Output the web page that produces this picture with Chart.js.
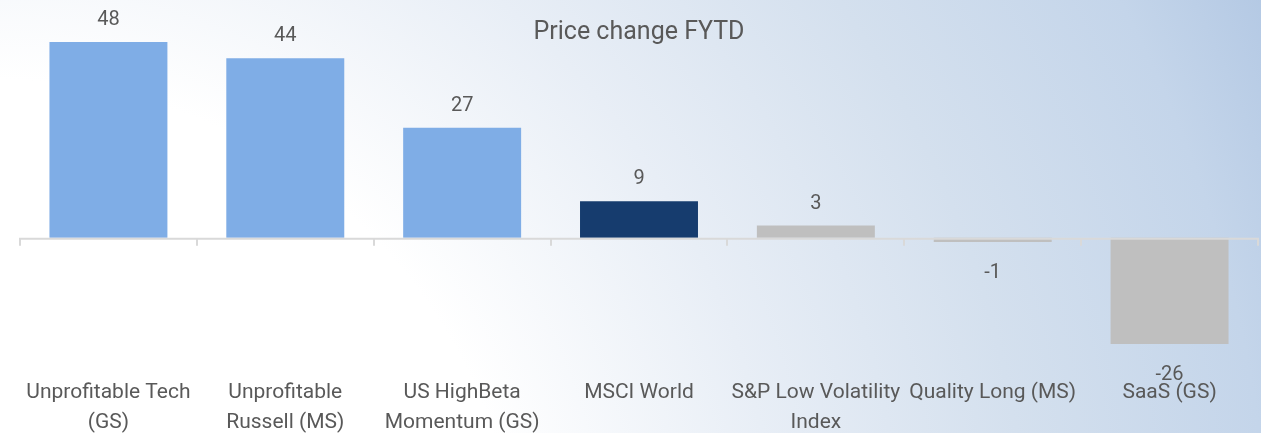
<!DOCTYPE html>
<html>
<head>
<meta charset="utf-8">
<script src="https://cdn.jsdelivr.net/npm/chart.js@4/dist/chart.umd.min.js"></script>
<style>
  html, body { margin: 0; padding: 0; }
  body {
    width: 1261px; height: 433px; overflow: hidden;
    background: radial-gradient(circle at 0px 600px, #ffffff 0px, #ffffff 520px, #e8eef6 780px, #d4e0ee 1030px, #c4d5ea 1270px, #b4c9e4 1400px);
  }
  #wrap { position: relative; width: 1261px; height: 433px; }
</style>
</head>
<body>
<div id="wrap"><canvas id="c"></canvas></div>
<script>
"use strict";
var categories = [
  ["Unprofitable Tech", "(GS)"],
  ["Unprofitable", "Russell (MS)"],
  ["US HighBeta", "Momentum (GS)"],
  "MSCI World",
  ["S&P Low Volatility", "Index"],
  "Quality Long (MS)",
  "SaaS (GS)"
];
var priceChange = [48, 44, 27, 9, 3, -1, -26];
var barColors = ["#7fade6", "#7fade6", "#7fade6", "#163c6e", "#bfbfbf", "#bfbfbf", "#bfbfbf"];
var chartTitle = "Price change FYTD";

var textColor = "#595959";
var fontFam = "Roboto, 'Noto Sans', sans-serif";

// zero line + category ticks, value labels, title
var decor = {
  id: "decor",
  afterDatasetsDraw: function(chart) {
    var ctx = chart.ctx, area = chart.chartArea;
    var xs = chart.scales.x, ys = chart.scales.y;
    var y0 = ys.getPixelForValue(0);
    var n = categories.length, w = (area.right - area.left) / n;
    ctx.save();
    ctx.strokeStyle = "#d9d9d9";
    ctx.lineWidth = 2;
    ctx.beginPath();
    ctx.moveTo(area.left, y0 + 1);
    ctx.lineTo(area.right, y0 + 1);
    for (var i = 0; i <= n; i++) {
      var x = Math.round(xs.getPixelForValue(0) - w / 2 + i * w);
      ctx.moveTo(x, y0);
      ctx.lineTo(x, y0 + 8);
    }
    ctx.stroke();

    ctx.fillStyle = textColor;
    ctx.font = "20px " + fontFam;
    ctx.textAlign = "center";
    chart.getDatasetMeta(0).data.forEach(function(bar, i) {
      var v = priceChange[i];
      if (v >= 0) {
        ctx.textBaseline = "alphabetic";
        ctx.fillText(String(v), bar.x, bar.y - 17);
      } else {
        ctx.textBaseline = "top";
        ctx.fillText(String(v), bar.x, bar.y + 21);
      }
    });

    ctx.font = "25px " + fontFam;
    ctx.textBaseline = "middle";
    ctx.fillText(chartTitle, (area.left + area.right) / 2, 33);
    ctx.restore();
  }
};

new Chart(document.getElementById("c"), {
  type: "bar",
  data: {
    labels: categories,
    datasets: [{
      data: priceChange,
      backgroundColor: barColors,
      borderWidth: 0,
      categoryPercentage: 0.667,
      barPercentage: 1
    }]
  },
  options: {
    responsive: true,
    maintainAspectRatio: false,
    animation: false,
    layout: { padding: { left: 20, right: 3, top: 0, bottom: -4 } },
    plugins: { legend: { display: false }, tooltip: { enabled: false }, title: { display: false } },
    scales: {
      x: {
        grid: { display: false, drawTicks: false },
        border: { display: false },
        ticks: {
          color: textColor,
          font: { family: fontFam, size: 21, lineHeight: 1.4 },
          padding: 0,
          maxRotation: 0,
          autoSkip: false
        }
      },
      y: {
        display: false,
        min: -34.4,
        max: 58.3
      }
    }
  },
  plugins: [decor]
});
</script>
</body>
</html>
